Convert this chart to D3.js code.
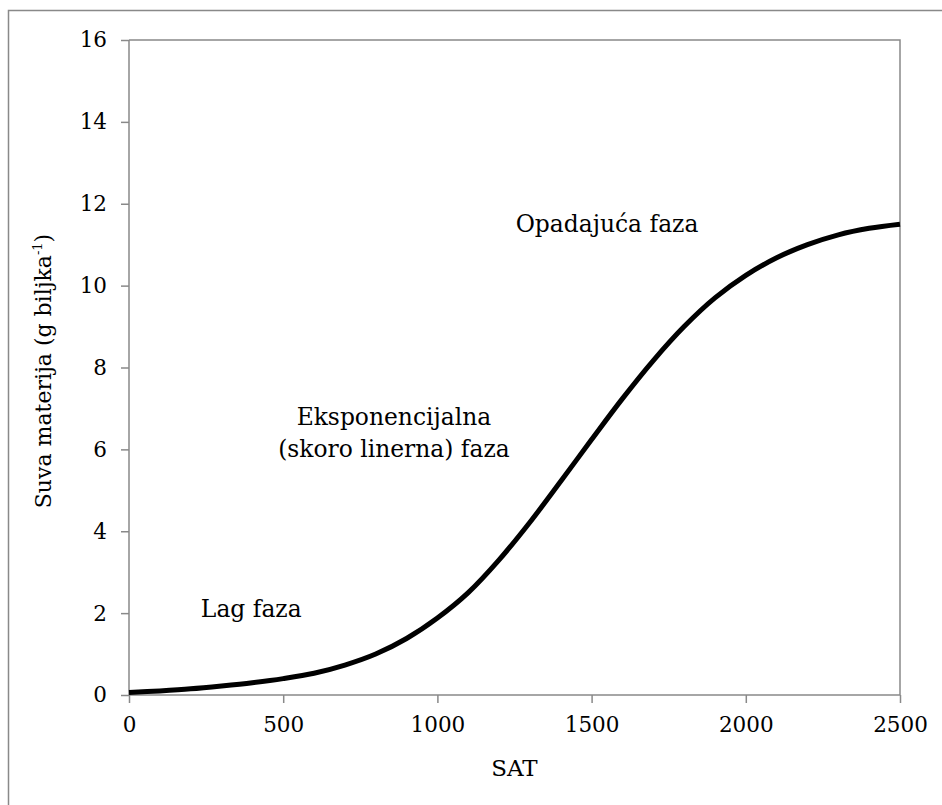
<!DOCTYPE html>
<html><head><meta charset="utf-8">
<script src="https://cdn.jsdelivr.net/npm/d3@7/dist/d3.min.js"></script>
<style>body{margin:0;background:#fff}svg{display:block}</style>
</head><body><svg id="c" width="942" height="805"></svg>
<script>
// Data
const satValues = [0,100,200,300,400,500,600,700,800,900,1000,1100,1200,1300,1400,1500,1600,1700,1800,1900,2000,2100,2200,2300,2400,2500];
const dryMatter = [0.06,0.1,0.15,0.22,0.3,0.4,0.53,0.73,1.0,1.38,1.88,2.5,3.3,4.22,5.22,6.24,7.24,8.17,9.0,9.7,10.25,10.68,11.0,11.24,11.4,11.5];
const xTicks = [0,500,1000,1500,2000,2500];
const yTicks = [0,2,4,6,8,10,12,14,16];
const annotations = [
  {lines:["Lag faza"], x:233, y:1.9, anchor:"start"},
  {lines:["Eksponencijalna","(skoro linerna) faza"], x:859, y:6.6, anchor:"middle"},
  {lines:["Opadajuća faza"], x:1550, y:11.3, anchor:"middle"}
];

const FONT = "DejaVu Serif, serif";
const svg = d3.select("#c");
const grey = "#898989";
const L=129, R=900, T=40, B=695;
const x = d3.scaleLinear().domain([0,2500]).range([L,R]);
const y = d3.scaleLinear().domain([0,16]).range([B,T]);

// outer border
svg.append("rect").attr("x",8.5).attr("y",10.5).attr("width",960).attr("height",900)
  .attr("fill","none").attr("stroke",grey).attr("stroke-width",1.5);

// plot frame (top & right)
svg.append("path").attr("d",`M${L},${T}H${R}V${B}`).attr("fill","none").attr("stroke",grey).attr("stroke-width",1.5);

const xAxis = svg.append("g").attr("transform",`translate(0,${B})`)
  .call(d3.axisBottom(x).tickValues(xTicks).tickSize(8).tickPadding(14).tickFormat(d3.format("d")));
const yAxis = svg.append("g").attr("transform",`translate(${L},0)`)
  .call(d3.axisLeft(y).tickValues(yTicks).tickSize(8).tickPadding(14));
[xAxis,yAxis].forEach(g=>{
  g.attr("font-family",FONT);
  g.selectAll("path,line").attr("stroke",grey).attr("stroke-width",1.5);
  g.selectAll("text").attr("font-family",FONT).attr("font-size",21.5).attr("fill","#000");
});
xAxis.select(".domain").attr("d",`M${L},0H${R}`);
yAxis.select(".domain").attr("d",`M0,${B}V${T}`);

// curve
const line = d3.line().x((d,i)=>x(satValues[i])).y(d=>y(d)).curve(d3.curveCatmullRom);
svg.append("path").datum(dryMatter).attr("d",line).attr("fill","none")
  .attr("stroke","#000").attr("stroke-width",5).attr("stroke-linecap","butt");

// annotations
annotations.forEach(a=>{
  const t = svg.append("text").attr("x",x(a.x)).attr("y",y(a.y)).attr("text-anchor",a.anchor)
    .attr("font-family",FONT).attr("font-size",23.4);
  a.lines.forEach((s,i)=>t.append("tspan").attr("x",x(a.x)).attr("dy",i?32:0).text(s));
});

// axis titles
svg.append("text").attr("x",(L+R)/2).attr("y",776).attr("text-anchor","middle")
  .attr("font-family",FONT).attr("font-size",23).text("SAT");
const yt = svg.append("text").attr("transform",`translate(51,371) rotate(-90)`).attr("text-anchor","middle")
  .attr("font-family",FONT).attr("font-size",22);
yt.append("tspan").text("Suva materija (g biljka");
yt.append("tspan").attr("dy",-9).attr("font-size",13).text("-1");
yt.append("tspan").attr("dy",9).text(")");
</script></body></html>
